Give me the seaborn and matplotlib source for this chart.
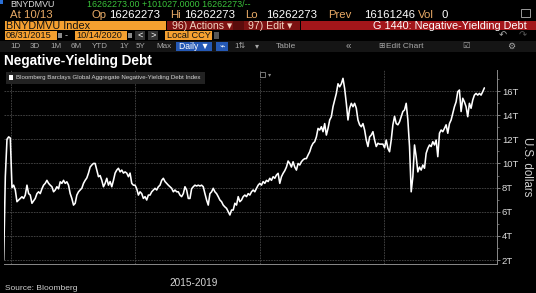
import numpy as np
import pandas as pd
import matplotlib
matplotlib.use('Agg')
import matplotlib.pyplot as plt
import matplotlib.dates as mdates
from matplotlib.patches import Rectangle
from matplotlib.ticker import FuncFormatter, MultipleLocator
import seaborn as sns

# ---------------- data ----------------
start_date = '2016-12-11'
end_date = '2020-10-20'
debt_trillions = [
    2.0, 8.9, 12.0, 12.2, 12.1, 8.0, 8.2, 7.8, 6.83, 6.97,
    7.1, 7.24, 7.1, 7.38, 8.2, 7.5, 7.38, 6.7, 6.9, 7.1,
    7.5, 7.65, 7.5, 7.9, 8.2, 8.35, 8.6, 8.35, 8.2, 8.07,
    7.65, 7.8, 8.07, 7.9, 8.48, 8.35, 8.6, 8.35, 8.48, 8.2,
    7.5, 7.1, 6.55, 6.7, 7.38, 7.65, 7.8, 7.95, 8.35, 8.6,
    8.8, 9.2, 9.7, 9.87, 10.0, 10.0, 9.45, 8.9, 9.0, 8.6,
    8.07, 8.35, 8.77, 8.2, 8.5, 8.07, 8.6, 9.2, 9.45, 9.6,
    9.3, 9.45, 9.2, 9.3, 9.2, 8.9, 9.2, 8.35, 8.2, 8.2,
    7.9, 7.38, 7.65, 7.5, 7.1, 7.25, 6.97, 7.38, 7.38, 7.65,
    7.8, 7.94, 7.8, 8.07, 8.2, 8.6, 8.77, 8.5, 8.35, 8.2,
    8.07, 7.94, 7.65, 7.8, 7.65, 7.65, 7.38, 7.25, 7.5, 8.07,
    7.8, 7.1, 7.1, 7.9, 8.07, 8.2, 8.13, 8.2, 8.13, 8.2,
    8.07, 7.5, 6.97, 6.55, 7.5, 7.65, 7.94, 7.65, 7.5, 7.25,
    6.97, 6.83, 6.55, 6.4, 6.28, 6.0, 5.73, 6.14, 6.14, 6.7,
    6.55, 7.25, 6.83, 6.97, 7.25, 7.38, 7.25, 7.5, 7.38, 7.65,
    7.8, 7.65, 7.94, 8.2, 8.35, 8.2, 8.5, 8.35, 8.6, 8.5,
    8.77, 8.6, 8.9, 8.77, 9.04, 9.18, 8.35, 8.9, 9.18, 9.4,
    9.7, 10.2, 10.0, 9.7, 10.14, 9.7, 9.45, 10.0, 9.87, 10.14,
    10.3, 10.4, 10.4, 10.7, 10.97, 11.4, 11.67, 11.8, 12.2, 12.9,
    12.77, 13.04, 12.63, 13.3, 12.35, 12.9, 13.6, 13.87, 14.7, 15.25,
    15.8, 16.6, 16.35, 16.6, 17.05, 16.2, 14.98, 13.6, 14.57, 14.98,
    14.7, 14.98, 14.57, 13.6, 13.2, 13.04, 13.3, 12.77, 11.94, 11.4,
    12.2, 12.35, 12.63, 11.94, 11.4, 11.67, 11.6, 11.6, 11.6, 11.3,
    11.94, 11.25, 10.97, 11.94, 13.2, 13.9, 13.3, 13.2, 13.45, 13.87,
    14.3, 14.43, 14.98, 13.6, 11.4, 7.65, 8.9, 11.53, 10.56, 9.3,
    9.7, 9.45, 9.87, 9.6, 10.84, 11.25, 11.53, 11.4, 11.8, 11.53,
    11.94, 10.56, 12.5, 12.77, 12.63, 12.9, 13.2, 12.5, 13.3, 13.6,
    14.15, 14.7, 15.1, 15.94, 16.08, 14.3, 15.4, 15.1, 14.7, 13.87,
    14.98, 14.57, 15.25, 15.66, 15.8, 15.66, 15.8, 15.66, 15.94, 16.26,
]
y_tick_values = [2, 4, 6, 8, 10, 12, 14, 16]
x_limits = ['2016-12-12', '2020-11-26']
y_limits = [1.67, 17.74]
period_label = '2015-2019'
series_name = 'Bloomberg Barclays Global Aggregate Negative-Yielding Debt Index'
chart_title = 'Negative-Yielding Debt'
y_axis_label = 'U.S. dollars'

dates = pd.date_range(start_date, end_date, periods=len(debt_trillions))
df = pd.DataFrame({'date': dates, 'value': debt_trillions})

# ---------------- style ----------------
sns.set_theme(style='dark', rc={
    'figure.facecolor': 'black', 'axes.facecolor': 'black',
    'savefig.facecolor': 'black',
})
FONT = ['Liberation Sans', 'DejaVu Sans']
plt.rcParams['font.family'] = FONT

W, H = 536, 293
fig = plt.figure(figsize=(W / 100, H / 100), dpi=100)
fig.patch.set_facecolor('black')


def fx(x):
    return x / W


def fy(y):
    return 1 - y / H


def rect(x0, y0, x1, y1, color, **kw):
    fig.patches.append(Rectangle((fx(x0), fy(y1)), (x1 - x0) / W, (y1 - y0) / H,
                                 transform=fig.transFigure, facecolor=color,
                                 edgecolor=kw.pop('edgecolor', 'none'), **kw))


def txt(x, y, s, size, color, ha='left', va='center', weight='normal', **kw):
    fig.text(fx(x), fy(y), s, fontsize=size, color=color, ha=ha, va=va,
             fontweight=weight, family=FONT, **kw)


ORANGE = '#f5a030'
TAN = '#e8aa66'
GREEN = '#3bc43b'

# ---- row 0 ----
rect(0, 0, 3, 4, '#2a6fd6')
txt(10, 0.3, 'BNYDMVU', 6.4, '#e0e0e0', va='top')
txt(87, 0.3, '16262273.00 +101027.0000 16262273/--', 6.4, GREEN, va='top')

# ---- row 1 ----
b1 = 17.6
txt(10, b1, 'At 10/13', 8.2, TAN, va='baseline')
for x, s, c in [(92, 'Op', TAN), (109, '16262273', 'white'),
                (170, 'Hi', TAN), (184, '16262273', 'white'),
                (245, 'Lo', TAN), (266, '16262273', 'white'),
                (328, 'Prev', TAN), (364, '16161246', 'white'),
                (418, 'Vol', TAN), (442, '0', 'white')]:
    txt(x, b1, s, 8.2, c, va='baseline')
rect(521, 9, 530, 17, 'none', edgecolor='#9a9a9a', lw=0.7)

# ---- row 2 ----
rect(5, 21, 166, 30, ORANGE)
txt(6.5, 25.7, 'BNYDMVU Index', 7.8, '#111111')
rect(167, 21, 233, 30, '#7d1212')
rect(244, 21, 300, 30, '#7d1212')
rect(233, 21, 244, 30, '#5a0c0c')
rect(301, 21, 536, 30, '#a3161a')
txt(172, 25.7, '96) Actions ▾', 7.6, '#f2d2c0')
txt(248, 25.7, '97) Edit ▾', 7.6, '#f2d2c0')
txt(527, 25.7, 'G 1440: Negative-Yielding Debt', 7.8, 'white', ha='right')

# ---- row 3 ----
rect(5, 31, 57, 40, ORANGE)
txt(6, 35.7, '08/31/2015', 6.6, '#111111')
rect(58, 33, 62, 38, '#8a8a8a')
txt(66, 35.7, '-', 6.6, '#cccccc', ha='center')
rect(75, 31, 127, 40, ORANGE)
txt(76, 35.7, '10/14/2020', 6.6, '#111111')
rect(128, 33, 132, 38, '#8a8a8a')
rect(135, 31, 145, 40, '#333333')
txt(140, 35.5, '<', 6.6, 'white', ha='center')
rect(148, 31, 158, 40, '#333333')
txt(153, 35.5, '>', 6.6, 'white', ha='center')
rect(165, 31, 212, 40, ORANGE)
txt(167, 35.7, 'Local CCY', 6.6, '#111111')
rect(214, 32, 219, 39, '#555555')
txt(503, 35.5, '↶', 7, '#aaaaaa', ha='center')
txt(523, 35.5, '↷', 7, '#555555', ha='center')

# ---- row 4 ----
rect(0, 41, 536, 52, '#151515')
for x, s in [(10, '1D'), (30, '3D'), (50, '1M'), (71, '6M'), (92, 'YTD'),
             (119, '1Y'), (136, '5Y'), (156, 'Max')]:
    txt(x, 46.8, s, 5.8, '#a8a8a8')
rect(176, 42, 212, 51, '#2559b5')
txt(179, 46.8, 'Daily ▼', 6.2, 'white')
rect(216, 42, 228, 51, '#2559b5')
txt(222, 46.5, '⌁', 6.5, 'white', ha='center')
txt(234, 46.8, '1⇅', 5.8, '#a8a8a8')
txt(255, 46.8, '▾', 5.8, '#a8a8a8')
txt(276, 46.8, 'Table', 6.0, '#a8a8a8')
txt(346, 46.5, '«', 7.0, '#a8a8a8')
txt(378, 46.8, '⊞', 5.5, '#a8a8a8')
txt(386, 46.8, 'Edit Chart', 6.0, '#a8a8a8')
txt(462, 46.8, '☑', 6.0, '#a8a8a8')
txt(511, 46.8, '⚙', 6.5, '#a8a8a8', ha='center')

# ---- title ----
txt(4.5, 65, chart_title, 9.8, 'white', va='baseline', weight='bold')

# ---------------- axes ----------------
ax = fig.add_axes([fx(4), fy(264), (497 - 4) / W, (264 - 70) / H])
ax.set_facecolor('black')
sns.lineplot(data=df, x='date', y='value', ax=ax, color='white', lw=1.15)

ax.set_xlim(pd.Timestamp(x_limits[0]), pd.Timestamp(x_limits[1]))
ax.set_ylim(*y_limits)

ax.xaxis.set_major_locator(mdates.YearLocator())
ax.xaxis.set_minor_locator(mdates.MonthLocator(bymonth=[4, 7, 10]))
ax.xaxis.set_major_formatter(FuncFormatter(lambda v, p: ''))
ax.yaxis.tick_right()
ax.set_yticks(y_tick_values)
ax.yaxis.set_minor_locator(MultipleLocator(1))
ax.yaxis.set_major_formatter(FuncFormatter(lambda v, p: f'{v:g}T'))

grid_kw = dict(color='#4a4a4a', lw=0.6, ls=(0, (2, 1.2)))
ax.grid(True, which='major', axis='both', **grid_kw)
ax.grid(False, which='minor')

ax.tick_params(axis='y', which='major', direction='out', length=2.5, width=0.6,
               color='#9a9a9a', labelsize=6.8, labelcolor='#dcdcdc', pad=1,
               left=False, right=True)
ax.tick_params(axis='y', which='minor', direction='out', length=1.5, width=0.5,
               color='#8a8a8a', left=False, right=True)
ax.tick_params(axis='x', which='major', direction='out', length=2.5, width=0.6,
               color='#8a8a8a', pad=0)
ax.tick_params(axis='x', which='minor', direction='out', length=2.0, width=0.5,
               color='#8a8a8a')
ax.set_xlabel('')
ax.set_ylabel('')

for tick, loc in zip(ax.xaxis.get_major_ticks(), ax.get_xticks()):
    if mdates.num2date(loc).year == 2020:
        tick.tick1line.set_markersize(19)
        tick.tick1line.set_markeredgecolor('#7a7a7a')

for side in ['left', 'top']:
    ax.spines[side].set_visible(False)
for side in ['right', 'bottom']:
    ax.spines[side].set_visible(True)
    ax.spines[side].set_color('#8a8a8a')
    ax.spines[side].set_linewidth(0.7)

# legend box
rect(6, 72, 205, 84, '#222222')
rect(8.5, 75, 13, 80, 'white')
txt(15.5, 77.8, series_name, 4.45, '#d6d6d6')
rect(260, 72, 265, 77, 'none', edgecolor='#8a8a8a', lw=0.6)
txt(268, 74.5, '▾', 4.5, '#8a8a8a')

# axis labels
txt(527, 167, y_axis_label, 8.3, '#d0d0d0', ha='center', rotation=270)
txt(194, 282.7, period_label, 7.2, '#d6d6d6', ha='center')
txt(5, 292.5, 'Source: Bloomberg', 6.0, '#d0d0d0', va='bottom')

fig.savefig('out.png', dpi=100, facecolor='black')
